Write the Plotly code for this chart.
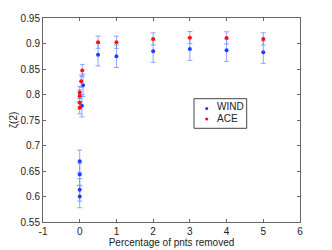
import plotly.graph_objects as go

# WIND series
wind_x = [0, 0, 0, 0, 0.06, 0.09, 0.5, 1, 2, 3, 4, 5]
wind_y = [0.600, 0.613, 0.643, 0.669, 0.778, 0.818, 0.878, 0.875, 0.885, 0.889, 0.887, 0.883]
wind_err = [0.022] * 12

# ACE series
ace_x = [0, 0, 0, 0, 0.04, 0.07, 0.5, 1, 2, 3, 4, 5]
ace_y = [0.774, 0.784, 0.797, 0.804, 0.826, 0.847, 0.9025, 0.9025, 0.909, 0.9115, 0.911, 0.909]
ace_err = [0.012] * 12

x_ticks = [-1, 0, 1, 2, 3, 4, 5, 6]
y_ticks = [0.55, 0.6, 0.65, 0.7, 0.75, 0.8, 0.85, 0.9, 0.95]
y_ticktext = ["0.55", "0.6", "0.65", "0.7", "0.75", "0.8", "0.85", "0.9", "0.95"]
series_names = ["WIND", "ACE"]
series_colors = ["#1f3dff", "#ff1010"]

err_color = "rgba(110,140,255,0.75)"
font = "Liberation Sans, Arial, sans-serif"
fs = 10

fig = go.Figure()
fig.add_trace(go.Scatter(
    x=wind_x, y=wind_y, mode="markers", name=series_names[0], showlegend=False,
    marker=dict(color=series_colors[0], size=4),
    error_y=dict(type="data", array=wind_err, color=err_color, thickness=1, width=2.5),
))
fig.add_trace(go.Scatter(
    x=ace_x, y=ace_y, mode="markers", name=series_names[1], showlegend=False,
    marker=dict(color=series_colors[1], size=4),
    error_y=dict(type="data", array=ace_err, color=err_color, thickness=1, width=2.5),
))

axis_common = dict(
    showline=True, linecolor="#666666", linewidth=1, mirror="ticks",
    ticks="inside", ticklen=3, tickcolor="#666666", showgrid=False, zeroline=False,
    tickfont=dict(family=font, size=fs, color="#222222"),
)
fig.update_xaxes(range=[-1, 6], tickvals=x_ticks, ticktext=[str(t) for t in x_ticks],
                 title=dict(text="Percentage of pnts removed", font=dict(family=font, size=fs, color="#222222"), standoff=1),
                 **axis_common)
fig.update_yaxes(range=[0.55, 0.95], tickvals=y_ticks, ticktext=y_ticktext,
                 title=dict(text="ζ(2)", font=dict(family=font, size=fs, color="#222222"), standoff=3),
                 **axis_common)

# manual legend box (matching the compact MATLAB-style legend)
fig.add_shape(type="rect", xref="paper", yref="paper", x0=0.5875, x1=0.7926, y0=0.4593, y1=0.6044,
              line=dict(color="#444444", width=1), fillcolor="white", layer="above")
mark_y = [0.5564, 0.5049]
text_y = [0.5662, 0.5098]
for name, col, my, ty in zip(series_names, series_colors, mark_y, text_y):
    fig.add_shape(type="circle", xref="paper", yref="paper", xsizemode="pixel", ysizemode="pixel",
                  xanchor=0.637, yanchor=my, x0=-1.6, x1=1.6, y0=-1.6, y1=1.6,
                  line=dict(color=col, width=0), fillcolor=col, layer="above")
    fig.add_annotation(x=0.676, y=ty, xref="paper", yref="paper", text=name, showarrow=False,
                       xanchor="left", yanchor="middle", xshift=-2, font=dict(family=font, size=fs, color="#222222"))

fig.update_layout(
    width=332, height=250,
    margin=dict(l=35, r=40, t=10, b=36, autoexpand=False),
    plot_bgcolor="white", paper_bgcolor="white",
    showlegend=False,
)

fig.write_html("out.html")
